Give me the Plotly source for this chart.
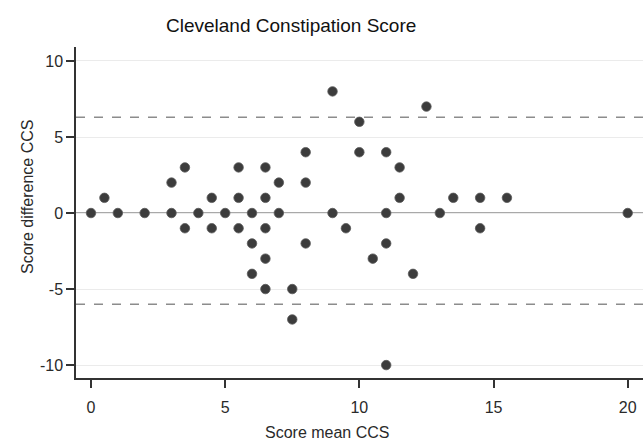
import plotly.graph_objects as go

# Bland-Altman style data: mean score (x) and difference (y)
score_mean = [0, 0.5, 1, 2, 3, 3, 3.5, 3.5, 4, 4.5, 4.5, 5, 5.5, 5.5, 5.5,
              6, 6, 6, 6.5, 6.5, 6.5, 6.5, 6.5, 7, 7, 7.5, 7.5, 8, 8, 8,
              9, 9, 9.5, 10, 10, 10.5, 11, 11, 11, 11, 11.5, 11.5, 12, 12.5,
              13, 13.5, 14.5, 14.5, 15.5, 20]
score_diff = [0, 1, 0, 0, 0, 2, 3, -1, 0, 1, -1, 0, 3, 1, -1,
              0, -2, -4, 3, 1, -1, -3, -5, 2, 0, -5, -7, 4, 2, -2,
              8, 0, -1, 6, 4, -3, 4, 0, -2, -10, 3, 1, -4, 7,
              0, 1, 1, -1, 1, 0]
mean_diff = 0
upper_loa = 6.3
lower_loa = -6.0
x_ticks = [0, 5, 10, 15, 20]
y_ticks = [-10, -5, 0, 5, 10]
y_tick_labels = ["-10", "-5", "0", "5", "10"]

W, H = 643, 441
L, R, T, B = 76, 0, 47, 63

fig = go.Figure()
fig.add_trace(go.Scatter(
    x=score_mean, y=score_diff, mode="markers",
    marker=dict(size=9.5, color="#3c3c3c", line=dict(color="#5a5a5a", width=0.8)),
    showlegend=False, cliponaxis=False, hoverinfo="skip"))

for yv, dash, col in [(upper_loa, "dash", "#8c8c8c"), (lower_loa, "dash", "#8c8c8c"),
                      (mean_diff, "solid", "#8c8c8c")]:
    fig.add_shape(type="line", xref="paper", x0=0, x1=1, yref="y", y0=yv, y1=yv,
                  line=dict(color=col, width=1.6, dash=dash), layer="below")

fig.update_layout(
    width=W, height=H,
    margin=dict(l=L, r=R, t=T, b=B, autoexpand=False),
    paper_bgcolor="white", plot_bgcolor="white",
    font=dict(family="Liberation Sans, Arial, sans-serif", color="#2a2a2a", size=16),
    xaxis=dict(range=[-0.559, 20.57], tickvals=x_ticks, showgrid=False,
               zeroline=False, showline=True, linecolor="#333333", linewidth=1.5,
               ticks="outside", ticklen=8, tickwidth=1.5, tickcolor="#333333",
               tickfont=dict(size=16), ticklabelstandoff=6),
    yaxis=dict(range=[-10.85, 10.92], tickvals=y_ticks, ticktext=y_tick_labels,
               showgrid=True, gridcolor="#ebebeb", gridwidth=1, zeroline=False,
               showline=True, linecolor="#333333", linewidth=1.5, ticks="outside",
               ticklen=8, tickwidth=1.5, tickcolor="#333333", tickfont=dict(size=16)),
    annotations=[
        dict(text="Cleveland Constipation Score", xref="paper", yref="paper",
             x=(291 - L) / (W - L - R), y=1 + (47 - 26) / (H - T - B),
             showarrow=False, font=dict(size=19, color="#111111"),
             xanchor="center", yanchor="middle"),
        dict(text="Score mean CCS", xref="paper", yref="paper",
             x=(327 - L) / (W - L - R), y=-(432 - (H - B)) / (H - T - B),
             showarrow=False, font=dict(size=16), xanchor="center", yanchor="middle"),
        dict(text="Score difference CCS", xref="paper", yref="paper",
             x=-(L - 27) / (W - L - R), y=1 - (197 - T) / (H - T - B),
             showarrow=False, textangle=-90, font=dict(size=16),
             xanchor="center", yanchor="middle"),
    ],
)

fig.write_html("out.html", config={"displayModeBar": False},
               post_script="document.body.style.margin='0';document.body.style.padding='0';")
